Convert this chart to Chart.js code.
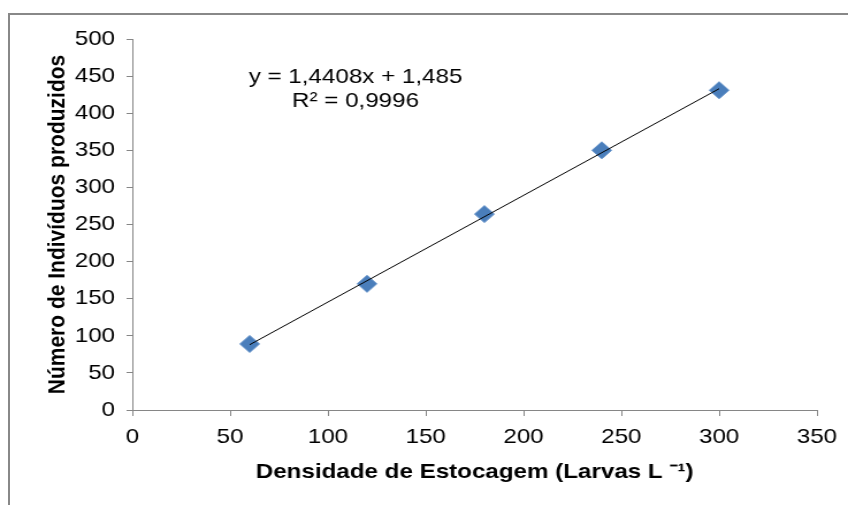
<!DOCTYPE html>
<html>
<head>
<meta charset="utf-8">
<script src="https://cdn.jsdelivr.net/npm/chart.js@4"></script>
<style>
    body { margin: 0; background: #fff; }
    #wrap { position: relative; width: 848px; height: 505px; overflow: hidden; }
    #frame { position: absolute; left: 8px; top: 13px; width: 900px; height: 600px; border: 2px solid #888; box-sizing: border-box; }
    /* the original picture is stretched sideways, so the canvas is too */
    canvas { position: absolute; left: 0; top: 0; }
</style>
</head>
<body>
<div id="wrap">
    <div id="frame"></div>
    <canvas id="chart" width="737" height="505" style="width:848px;height:505px"></canvas>
</div>
<script>
const densidade = [60, 120, 180, 240, 300];
const individuos = [89, 170, 264, 350, 431];
const trendX = [60, 300];
const trendY = [88, 433];
const xTicks = [0, 50, 100, 150, 200, 250, 300, 350];
const yTicks = [0, 50, 100, 150, 200, 250, 300, 350, 400, 450, 500];
const equationLines = ['y = 1,4408x + 1,485', 'R² = 0,9996'];

document.addEventListener('DOMContentLoaded', () => {
    const ctx = document.getElementById('chart').getContext('2d');
    const font = "'Liberation Sans', Arial, sans-serif";

    const equationPlugin = {
        id: 'equation',
        afterDatasetsDraw(chart) {
            const c = chart.ctx;
            c.save();
            c.font = '21px ' + font;
            c.fillStyle = '#000';
            c.textAlign = 'center';
            c.textBaseline = 'middle';
            c.fillText(equationLines[0], 309, 77);
            c.fillText(equationLines[1], 309, 101);
            c.restore();
        }
    };

    new Chart(ctx, {
        type: 'scatter',
        data: {
            datasets: [{
                label: 'Linear',
                data: trendX.map((x, i) => ({ x: x, y: trendY[i] })),
                showLine: true,
                borderColor: '#000',
                borderWidth: 1,
                pointRadius: 0,
                order: 0
            }, {
                label: 'Indivíduos',
                data: densidade.map((x, i) => ({ x: x, y: individuos[i] })),
                pointStyle: 'rectRot',
                pointRadius: 8.5,
                backgroundColor: '#4a7ebb',
                borderColor: '#5b8cc6',
                borderWidth: 1,
                order: 1
            }]
        },
        options: {
            responsive: false,
            animation: false,
            layout: { padding: { top: 39, right: 27, left: 0, bottom: 0 } },
            plugins: { legend: { display: false }, tooltip: { enabled: false } },
            scales: {
                x: {
                    type: 'linear',
                    min: 0,
                    max: 350,
                    afterBuildTicks: axis => { axis.ticks = xTicks.map(v => ({ value: v })); },
                    afterFit: axis => { axis.height = 95; },
                    grid: { drawOnChartArea: false, drawTicks: true, tickLength: 6, color: '#868686' },
                    border: { color: '#868686', width: 1 },
                    ticks: { color: '#000', font: { family: font, size: 21 }, padding: 9, maxRotation: 0 },
                    title: {
                        display: true,
                        text: 'Densidade de Estocagem (Larvas L ⁻¹)',
                        color: '#000',
                        font: { family: font, size: 21, weight: 'bold' },
                        padding: { top: 0, bottom: 20 }
                    }
                },
                y: {
                    min: 0,
                    max: 500,
                    afterBuildTicks: axis => { axis.ticks = yTicks.map(v => ({ value: v })); },
                    afterFit: axis => { axis.width = 115; },
                    grid: { drawOnChartArea: false, drawTicks: true, tickLength: 5, color: '#868686' },
                    border: { color: '#868686', width: 1 },
                    ticks: { color: '#000', font: { family: font, size: 21 }, padding: 10 },
                    title: {
                        display: true,
                        text: 'Número de Indivíduos produzidos',
                        color: '#000',
                        font: { family: font, size: 21, weight: 'bold' },
                        padding: { top: 38 }
                    }
                }
            }
        },
        plugins: [equationPlugin]
    });
});
</script>
</body>
</html>
